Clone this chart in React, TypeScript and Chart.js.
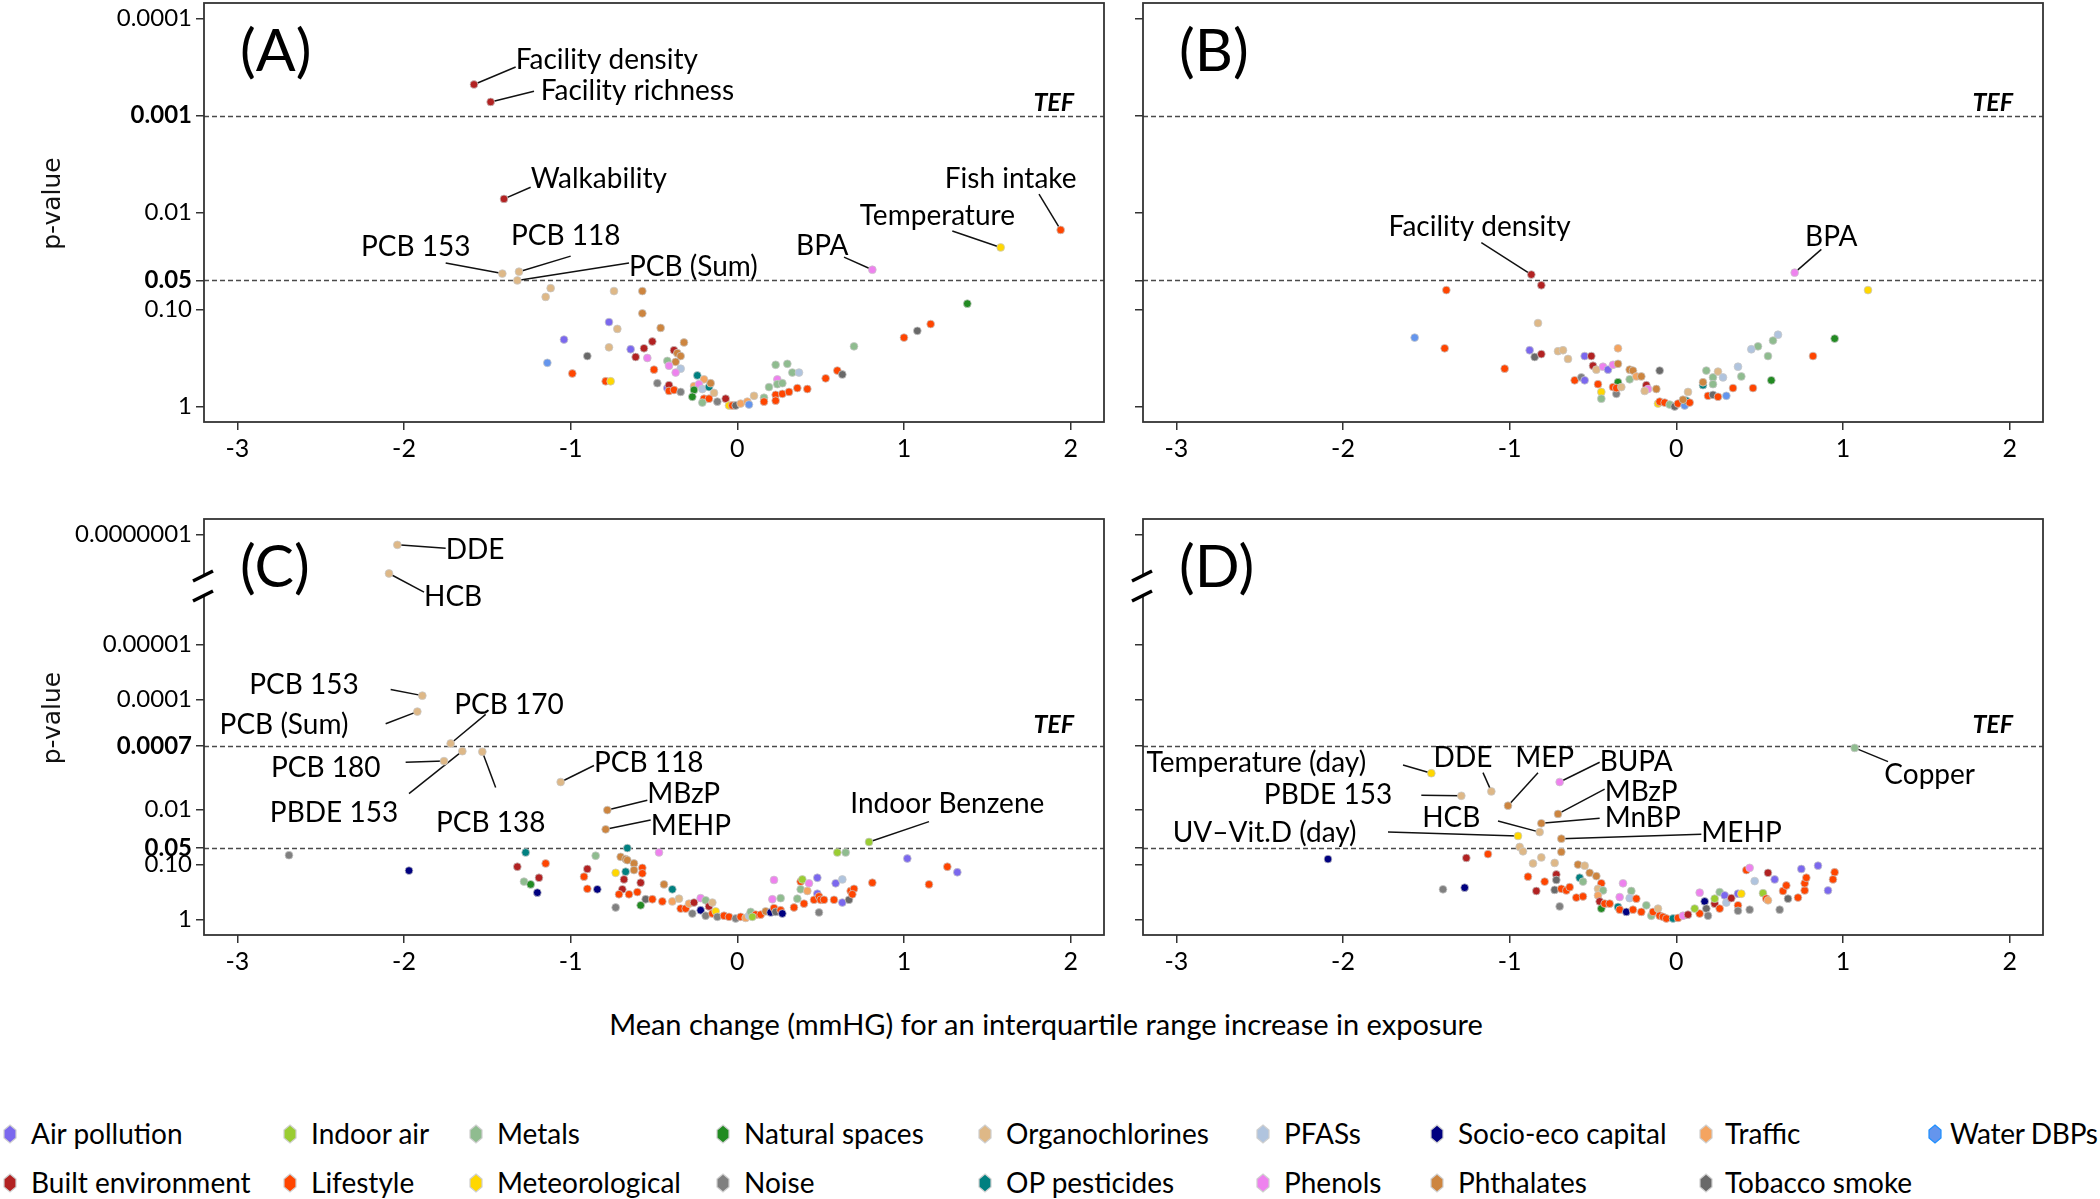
import React, { useEffect, useRef } from "react";
import { Chart, registerables } from "chart.js";

Chart.register(...registerables);

// ---------------- categories / legend ----------------
const categories = [
  "Air pollution", "Built environment", "Indoor air", "Lifestyle", "Metals", "Meteorological",
  "Natural spaces", "Noise", "Organochlorines", "OP pesticides", "PFASs", "Phenols",
  "Socio-eco capital", "Phthalates", "Traffic", "Tobacco smoke", "Water DBPs",
];
const categoryCodes = ["AP", "BE", "IA", "LS", "ME", "MT", "NS", "NO", "OC", "OP", "PF", "PH", "SE", "PT", "TR", "TS", "WD"];
const categoryColors = [
  "#7B68EE", "#B22222", "#9ACD32", "#FF4500", "#8FBC8F", "#FFD700",
  "#228B22", "#808080", "#DEB887", "#008080", "#B0C4DE", "#EE82EE",
  "#000080", "#CD853F", "#F4A460", "#696969", "#6495ED",
];
const legendRow1 = ["Air pollution", "Indoor air", "Metals", "Natural spaces", "Organochlorines", "PFASs", "Socio-eco capital", "Traffic", "Water DBPs"];
const legendRow2 = ["Built environment", "Lifestyle", "Meteorological", "Noise", "OP pesticides", "Phenols", "Phthalates", "Tobacco smoke"];

const xAxisTitle = "Mean change (mmHG) for an interquartile range increase in exposure";
const yAxisTitle = "p-value";

// ---------------- axes ----------------
const xTickValues = [-3, -2, -1, 0, 1, 2];
const xTickLabels = ["-3", "-2", "-1", "0", "1", "2"];
const xRange = [-3.2, 2.2];

const abTickP = [1, 0.1, 0.05, 0.01, 0.001, 0.0001];
const abTickLabels = ["1", "0.10", "0.05", "0.01", "0.001", "0.0001"];
const abTickBold = [false, false, true, false, true, false];
const abThresholds = [0.001, 0.05];
const abYRange = [-0.16, 4.16];

const cdTickP = [1, 0.1, 0.05, 0.01, 0.0007, 0.0001, 0.00001, 0.0000001];
const cdTickLabels = ["1", "0.10", "0.05", "0.01", "0.0007", "0.0001", "0.00001", "0.0000001"];
const cdTickBold = [false, false, true, false, true, false, false, false];
const cdThresholds = [0.0007, 0.05];
const cdYRange = [-0.28, 7.28];

// ---------------- Panel A (x = mean change, y = -log10 p) ----------------
const aX = [
  -1.58, -1.48, -1.40, 1.94, 1.58, 0.81, -1.41, -1.31, -1.32, -1.12,
  -1.15, -0.74, -0.57, -0.57, 1.38, -0.77, -0.72, -0.46, -1.04, -0.77,
  -0.51, -0.32, -0.64, -0.56, -0.61, -0.90, -1.14, -0.54, -0.38, -0.36,
  -0.34, -0.42, -0.37, -0.41, -0.34, -0.37, -0.50, -0.99, -0.79, -0.76,
  -0.48, -0.42, -0.41, -0.41, -0.38, -0.34, -0.24, -0.20, -0.26, -0.23,
  -0.21, -0.17, -0.16, -0.26, -0.27, -0.14, -0.20, -0.17, -0.21, -0.12,
  -0.07, -0.05, -0.03, -0.01, 0.02, 0.06, 0.07, 0.10, 0.16, 0.16,
  0.19, 0.23, 0.30, 0.24, 0.24, 0.27, 0.33, 0.37, 0.23, 0.23,
  0.27, 0.31, 0.36, 0.42, 0.53, 0.60, 0.63, 0.70, 1.00, 1.08,
  1.16,
];
const aNegLogP = [
  3.32, 3.14, 2.14, 1.82, 1.64, 1.41, 1.37, 1.39, 1.30, 1.22,
  1.13, 1.19, 1.19, 0.96, 1.06, 0.87, 0.80, 0.81, 0.69, 0.61,
  0.67, 0.66, 0.59, 0.60, 0.51, 0.52, 0.45, 0.50, 0.58, 0.55,
  0.52, 0.47, 0.46, 0.42, 0.39, 0.35, 0.38, 0.34, 0.26, 0.26,
  0.24, 0.19, 0.22, 0.16, 0.17, 0.15, 0.32, 0.28, 0.21, 0.23,
  0.18, 0.20, 0.24, 0.17, 0.10, 0.14, 0.08, 0.08, 0.04, 0.05,
  0.08, 0.01, 0.01, 0.01, 0.03, 0.05, 0.02, 0.11, 0.09, 0.05,
  0.20, 0.43, 0.44, 0.28, 0.23, 0.24, 0.35, 0.35, 0.12, 0.06,
  0.13, 0.15, 0.19, 0.18, 0.29, 0.37, 0.33, 0.62, 0.71, 0.78,
  0.85,
];
const aGroup = [
  "BE", "BE", "BE", "LS", "MT", "PH", "OC", "OC", "OC", "OC",
  "OC", "OC", "PT", "PT", "NS", "AP", "OC", "PT", "AP", "OC",
  "BE", "PT", "AP", "BE", "BE", "TS", "WD", "PH", "BE", "PT",
  "PT", "ME", "PT", "PH", "PF", "PH", "LS", "LS", "LS", "MT",
  "NO", "AP", "BE", "LS", "LS", "NO", "OP", "TR", "TR", "PH",
  "PF", "OP", "PT", "NS", "NS", "OC", "LS", "LS", "ME", "NO",
  "BE", "MT", "LS", "TS", "TR", "TR", "WD", "OC", "ME", "LS",
  "ME", "ME", "ME", "PH", "ME", "ME", "ME", "PF", "LS", "LS",
  "LS", "LS", "LS", "LS", "LS", "LS", "TS", "ME", "LS", "TS",
  "LS",
];
const aLabelText = ["Facility density", "Facility richness", "Walkability", "Fish intake", "Temperature", "BPA", "PCB 153", "PCB 118", "PCB (Sum)"];
const aLabelPoint = [0, 1, 2, 3, 4, 5, 6, 7, 8];
const aLabelX = [-1.33, -1.18, -1.24, 1.64, 1.20, 0.51, -1.93, -1.03, -0.65];
const aLabelY = [3.57, 3.25, 2.35, 2.35, 1.96, 1.65, 1.64, 1.76, 1.44];
const aLabelAlign = ["left", "left", "left", "center", "center", "center", "center", "center", "left"];
const aLeaderX = [-1.33, -1.22, -1.24, 1.81, 1.29, 0.64, -1.75, -1.00, -0.65];
const aLeaderY = [3.50, 3.25, 2.26, 2.19, 1.81, 1.54, 1.48, 1.55, 1.48];

// ---------------- Panel B ----------------
const bX = [
  -0.87, 0.71, -0.81, -1.38, 1.15, -0.83, -1.57, -1.39, 0.95, 0.61,
  0.58, 0.49, 0.45, 0.55, 0.82, -1.03, -0.88, -0.85, -0.81, -0.71,
  -0.68, -0.65, -0.55, -0.51, -0.35, -0.50, -0.48, -0.44, -0.41, -0.38,
  -0.35, -0.61, -0.57, -0.55, -0.47, -0.45, -0.45, -0.36, -0.35, -0.38,
  -0.36, -0.33, -0.28, -0.26, -0.28, -0.24, -0.21, -0.18, -0.17, -0.19,
  -0.12, -0.10, -0.11, -0.10, -0.07, -0.04, -0.01, 0.01, 0.05, 0.06,
  0.07, 0.08, 0.04, 0.16, 0.18, 0.22, 0.25, 0.28, 0.22, 0.19,
  0.22, 0.25, 0.30, 0.34, 0.37, 0.39, 0.46, 0.57, 0.16,
];
const bNegLogP = [
  1.36, 1.38, 1.25, 1.20, 1.20, 0.86, 0.71, 0.60, 0.70, 0.74,
  0.68, 0.62, 0.59, 0.52, 0.52, 0.39, 0.58, 0.51, 0.54, 0.57,
  0.58, 0.49, 0.52, 0.52, 0.60, 0.42, 0.38, 0.41, 0.38, 0.43,
  0.44, 0.27, 0.30, 0.27, 0.23, 0.15, 0.08, 0.13, 0.25, 0.20,
  0.19, 0.20, 0.38, 0.37, 0.28, 0.31, 0.31, 0.22, 0.18, 0.16,
  0.18, 0.37, 0.03, 0.05, 0.04, 0.02, 0.00, 0.03, 0.01, 0.06,
  0.15, 0.04, 0.07, 0.22, 0.37, 0.30, 0.36, 0.30, 0.23, 0.11,
  0.12, 0.10, 0.11, 0.19, 0.41, 0.31, 0.19, 0.27, 0.25,
];
const bGroup = [
  "BE", "PH", "BE", "LS", "MT", "OC", "WD", "LS", "NS", "PF",
  "ME", "ME", "PF", "ME", "LS", "LS", "AP", "TS", "BE", "OC",
  "OC", "OC", "AP", "BE", "TR", "BE", "OC", "PH", "AP", "PH",
  "PT", "LS", "NO", "AP", "LS", "MT", "ME", "NO", "NS", "LS",
  "LS", "OC", "PT", "PT", "ME", "TR", "PT", "BE", "PH", "OC",
  "PT", "TS", "MT", "LS", "LS", "ME", "TS", "LS", "WD", "OP",
  "OC", "LS", "PT", "OP", "ME", "ME", "OC", "PF", "ME", "LS",
  "TS", "LS", "WD", "LS", "PF", "ME", "LS", "NS", "PT",
];
const bLabelText = ["Facility density", "BPA"];
const bLabelPoint = [0, 1];
const bLabelX = [-1.18, 0.93];
const bLabelY = [1.85, 1.75];
const bLabelAlign = ["center", "center"];
const bLeaderX = [-1.17, 0.87];
const bLeaderY = [1.69, 1.62];

// ---------------- Panel C ----------------
const cX = [
  -2.04, -2.09, -1.89, -1.92, -1.72, -1.76, -1.65, -1.53, -1.06, -0.78,
  -0.79, 0.79, -2.69, -1.97, -0.66, -1.27, -0.85, -0.47, 0.60, 0.65,
  1.02, 1.26, 1.32, 1.15, 0.81, -1.32, -1.15, -1.28, -1.24, -1.19,
  -1.20, -0.90, -0.92, -0.90, -0.84, -0.73, -0.70, -0.67, -0.66, -0.62,
  -0.62, -0.57, -0.57, -0.73, -0.67, -0.68, -0.58, -0.69, -0.71, -0.65,
  -0.60, -0.55, -0.58, -0.51, -0.45, -0.44, -0.39, -0.39, -0.35, -0.34,
  -0.31, -0.29, -0.27, -0.26, -0.22, -0.22, -0.19, -0.17, -0.15, -0.19,
  -0.15, -0.13, -0.12, -0.08, -0.05, -0.01, 0.02, 0.05, 0.07, 0.08,
  0.11, 0.09, 0.14, 0.17, 0.20, 0.22, 0.23, 0.21, 0.26, 0.26,
  0.27, 0.22, 0.34, 0.40, 0.36, 0.38, 0.39, 0.43, 0.38, 0.42,
  0.48, 0.48, 0.46, 0.49, 0.50, 0.52, 0.49, 0.59, 0.63, 0.58,
  0.63, 0.67, 0.68, 0.70, 0.69,
];
const cNegLogP = [
  6.81, 6.29, 4.07, 3.78, 3.20, 2.88, 3.06, 3.05, 2.50, 1.99,
  1.64, 1.41, 1.17, 0.89, 1.30, 1.22, 1.16, 1.22, 1.22, 1.22,
  1.11, 0.96, 0.86, 0.64, 0.67, 0.96, 1.02, 0.69, 0.64, 0.76,
  0.49, 0.92, 0.78, 0.56, 0.55, 0.22, 1.14, 1.10, 1.08, 1.02,
  0.90, 0.94, 0.84, 0.85, 0.87, 0.73, 0.67, 0.55, 0.46, 0.46,
  0.50, 0.37, 0.26, 0.37, 0.33, 0.64, 0.55, 0.33, 0.38, 0.20,
  0.20, 0.29, 0.11, 0.31, 0.39, 0.17, 0.35, 0.24, 0.31, 0.07,
  0.11, 0.15, 0.05, 0.07, 0.05, 0.02, 0.05, 0.03, 0.07, 0.14,
  0.09, 0.05, 0.09, 0.15, 0.13, 0.21, 0.14, 0.37, 0.39, 0.17,
  0.11, 0.72, 0.22, 0.29, 0.38, 0.69, 0.73, 0.66, 0.55, 0.52,
  0.76, 0.47, 0.36, 0.42, 0.36, 0.36, 0.13, 0.66, 0.73, 0.36,
  0.31, 0.36, 0.52, 0.56, 0.46,
];
const cGroup = [
  "OC", "OC", "OC", "OC", "OC", "OC", "OC", "OC", "OC", "PT",
  "PT", "IA", "NO", "SE", "OP", "OP", "ME", "PH", "IA", "ME",
  "AP", "LS", "AP", "LS", "LS", "BE", "LS", "ME", "NS", "BE",
  "SE", "BE", "LS", "LS", "SE", "NO", "PT", "PT", "PT", "PT",
  "PT", "LS", "LS", "MT", "OP", "BE", "BE", "BE", "LS", "LS",
  "LS", "TS", "NS", "LS", "LS", "PT", "OP", "TR", "OC", "LS",
  "LS", "TR", "NO", "BE", "PH", "SE", "ME", "BE", "OC", "NO",
  "LS", "MT", "NO", "LS", "LS", "NO", "LS", "TR", "PF", "ME",
  "LS", "IA", "LS", "PT", "SE", "LS", "TS", "PH", "ME", "LS",
  "SE", "PH", "LS", "LS", "ME", "LS", "IA", "PH", "ME", "TR",
  "AP", "AP", "LS", "LS", "LS", "LS", "NO", "AP", "PF", "LS",
  "AP", "TS", "LS", "LS", "LS",
];
const cLabelText = ["DDE", "HCB", "PCB 153", "PCB (Sum)", "PCB 170", "PCB 180", "PBDE 153", "PCB 138", "PCB 118", "MBzP", "MEHP", "Indoor Benzene"];
const cLabelPoint = [0, 1, 2, 3, 4, 5, 6, 7, 8, 9, 10, 11];
const cLabelX = [-1.75, -1.88, -2.60, -2.72, -1.37, -2.47, -2.42, -1.48, -0.86, -0.54, -0.52, 1.26];
const cLabelY = [6.72, 5.87, 4.26, 3.53, 3.90, 2.75, 1.93, 1.76, 2.84, 2.29, 1.70, 2.11];
const cLabelAlign = ["left", "left", "center", "center", "center", "center", "center", "center", "left", "left", "left", "center"];
const cLeaderX = [-1.75, -1.88, -2.08, -2.11, -1.51, -1.99, -1.97, -1.45, -0.86, -0.54, -0.52, 1.15];
const cLeaderY = [6.75, 5.95, 4.18, 3.56, 3.73, 2.86, 2.29, 2.40, 2.80, 2.17, 1.81, 1.78];

// ---------------- Panel D ----------------
const dX = [
  1.07, -1.47, -1.11, -1.29, -1.01, -0.70, -0.71, -0.81, -0.82, -0.95,
  -0.69, -2.09, -1.26, -1.13, -1.40, -1.27, -0.94, -0.92, -0.69, -0.86,
  -0.81, -0.73, -0.59, -0.55, -0.52, -0.48, -0.89, -0.84, -0.79, -0.72,
  -0.72, -0.73, -0.70, -0.69, -0.66, -0.64, -0.60, -0.56, -0.58, -0.56,
  -0.45, -0.47, -0.44, -0.47, -0.46, -0.45, -0.43, -0.40, -0.35, -0.34,
  -0.30, -0.32, -0.27, -0.34, -0.28, -0.24, -0.26, -0.21, -0.18, -0.15,
  -0.14, -0.11, -0.10, -0.08, -0.06, -0.02, 0.01, 0.04, 0.07, 0.14,
  0.11, 0.14, 0.17, 0.18, 0.19, 0.23, 0.23, 0.26, 0.26, 0.29,
  0.30, 0.33, 0.37, 0.39, 0.37, 0.37, 0.42, 0.44, 0.47, 0.44,
  0.55, 0.59, 0.52, 0.54, 0.55, 0.62, 0.64, 0.66, 0.67, 0.73,
  0.75, 0.77, 0.77, 0.78, 0.85, 0.91, 0.95, 0.94,
];
const dNegLogP = [
  3.12, 2.66, 2.33, 2.25, 2.07, 2.50, 1.92, 1.75, 1.59, 1.52,
  1.47, 1.10, 1.12, 1.19, 0.55, 0.58, 1.32, 1.24, 1.23, 1.02,
  1.13, 1.03, 1.00, 0.98, 0.85, 0.79, 0.78, 0.52, 0.69, 0.82,
  0.72, 0.54, 0.24, 0.56, 0.53, 0.59, 0.40, 0.42, 0.76, 0.69,
  0.66, 0.56, 0.53, 0.44, 0.33, 0.20, 0.29, 0.29, 0.23, 0.18,
  0.14, 0.66, 0.52, 0.41, 0.39, 0.38, 0.18, 0.14, 0.26, 0.07,
  0.14, 0.20, 0.07, 0.05, 0.02, 0.02, 0.03, 0.07, 0.09, 0.11,
  0.20, 0.49, 0.33, 0.20, 0.07, 0.29, 0.38, 0.20, 0.50, 0.44,
  0.31, 0.39, 0.47, 0.47, 0.26, 0.16, 0.90, 0.94, 0.70, 0.18,
  0.85, 0.73, 0.48, 0.38, 0.35, 0.18, 0.52, 0.62, 0.38, 0.40,
  0.92, 0.53, 0.66, 0.76, 0.98, 0.53, 0.86, 0.73,
];
const dGroup = [
  "ME", "MT", "OC", "OC", "PT", "PH", "PT", "PT", "OC", "MT",
  "PT", "SE", "BE", "LS", "NO", "SE", "OC", "OC", "PT", "OC",
  "OC", "OC", "PT", "OC", "PT", "PT", "LS", "BE", "LS", "BE",
  "TS", "TS", "NO", "LS", "LS", "LS", "LS", "LS", "OP", "ME",
  "LS", "OC", "ME", "TR", "BE", "NS", "LS", "LS", "OP", "LS",
  "SE", "PH", "ME", "PH", "PF", "LS", "LS", "LS", "ME", "ME",
  "LS", "OC", "LS", "LS", "LS", "OP", "LS", "PH", "BE", "LS",
  "IA", "PH", "SE", "TS", "NO", "BE", "IA", "LS", "ME", "AP",
  "PF", "BE", "AP", "MT", "LS", "NO", "LS", "PH", "PF", "NO",
  "BE", "AP", "IA", "LS", "TR", "NO", "LS", "LS", "TS", "LS",
  "AP", "LS", "LS", "LS", "AP", "AP", "LS", "LS",
];
const dLabelText = ["Copper", "Temperature (day)", "DDE", "PBDE 153", "MEP", "BUPA", "MBzP", "MnBP", "HCB", "UV\u2013Vit.D (day)", "MEHP"];
const dLabelPoint = [0, 1, 2, 3, 4, 5, 6, 7, 8, 9, 10];
const dLabelX = [1.52, -2.52, -1.28, -2.09, -0.79, -0.46, -0.43, -0.43, -1.35, -2.47, 0.15];
const dLabelY = [2.62, 2.84, 2.93, 2.26, 2.93, 2.87, 2.32, 1.84, 1.84, 1.58, 1.58];
const dLabelAlign = ["center", "center", "center", "center", "center", "left", "left", "left", "center", "center", "left"];
const dLeaderX = [1.27, -1.64, -1.16, -1.53, -0.83, -0.46, -0.43, -0.46, -1.07, -1.73, 0.15];
const dLeaderY = [2.87, 2.81, 2.67, 2.26, 2.67, 2.86, 2.37, 1.84, 1.79, 1.59, 1.55];

// TEF label positions (data units)
const abTefPos = [2.02, 3.13];
const cdTefPos = [2.02, 3.53];

// ---------------- layout (pixels) ----------------
const PANEL_W = 1110;
const Y_AXIS_W = 204;
const X_AXIS_H = 58;
const FONT = "Lato";
const LABEL_SIZE = 28;
const TICK_SIZE = 24;

type Spec = {
  letter: string;
  xs: number[]; ys: number[]; gs: string[];
  tickP: number[]; tickLabels: string[]; tickBold: boolean[]; showYLabels: boolean;
  yRange: number[]; thresholds: number[]; tef: number[];
  lText: string[]; lPoint: number[]; lX: number[]; lY: number[]; lAlign: string[]; lEndX: number[]; lEndY: number[];
  axisBreak: boolean; yTitle: boolean;
  frame: { left: number; top: number; height: number; padTop: number };
};

const specs: Spec[] = [
  {
    letter: "A", xs: aX, ys: aNegLogP, gs: aGroup,
    tickP: abTickP, tickLabels: abTickLabels, tickBold: abTickBold, showYLabels: true,
    yRange: abYRange, thresholds: abThresholds, tef: abTefPos,
    lText: aLabelText, lPoint: aLabelPoint, lX: aLabelX, lY: aLabelY, lAlign: aLabelAlign, lEndX: aLeaderX, lEndY: aLeaderY,
    axisBreak: false, yTitle: true,
    frame: { left: 0, top: 0, height: 480, padTop: 3 },
  },
  {
    letter: "B", xs: bX, ys: bNegLogP, gs: bGroup,
    tickP: abTickP, tickLabels: abTickLabels, tickBold: abTickBold, showYLabels: false,
    yRange: abYRange, thresholds: abThresholds, tef: abTefPos,
    lText: bLabelText, lPoint: bLabelPoint, lX: bLabelX, lY: bLabelY, lAlign: bLabelAlign, lEndX: bLeaderX, lEndY: bLeaderY,
    axisBreak: false, yTitle: false,
    frame: { left: 939, top: 0, height: 480, padTop: 3 },
  },
  {
    letter: "C", xs: cX, ys: cNegLogP, gs: cGroup,
    tickP: cdTickP, tickLabels: cdTickLabels, tickBold: cdTickBold, showYLabels: true,
    yRange: cdYRange, thresholds: cdThresholds, tef: cdTefPos,
    lText: cLabelText, lPoint: cLabelPoint, lX: cLabelX, lY: cLabelY, lAlign: cLabelAlign, lEndX: cLeaderX, lEndY: cLeaderY,
    axisBreak: true, yTitle: true,
    frame: { left: 0, top: 500, height: 493, padTop: 19 },
  },
  {
    letter: "D", xs: dX, ys: dNegLogP, gs: dGroup,
    tickP: cdTickP, tickLabels: cdTickLabels, tickBold: cdTickBold, showYLabels: false,
    yRange: cdYRange, thresholds: cdThresholds, tef: cdTefPos,
    lText: dLabelText, lPoint: dLabelPoint, lX: dLabelX, lY: dLabelY, lAlign: dLabelAlign, lEndX: dLeaderX, lEndY: dLeaderY,
    axisBreak: true, yTitle: false,
    frame: { left: 939, top: 500, height: 493, padTop: 19 },
  },
];

const colorOf = (code: string) => categoryColors[categoryCodes.indexOf(code)];

function makeDecor(s: Spec) {
  return {
    id: "decor" + s.letter,
    beforeDatasetsDraw(chart: any) {
      const { ctx, chartArea: a, scales } = chart;
      const xs = scales.x, ys = scales.y;
      ctx.save();
      // threshold lines
      ctx.strokeStyle = "#4a4a4a";
      ctx.lineWidth = 1.7;
      ctx.setLineDash([5, 3]);
      s.thresholds.forEach((t) => {
        const py = Math.round(ys.getPixelForValue(-Math.log10(t))) + 0.5;
        ctx.beginPath();
        ctx.moveTo(a.left, py);
        ctx.lineTo(a.right, py);
        ctx.stroke();
      });
      ctx.setLineDash([]);
      // leader lines
      ctx.strokeStyle = "#111";
      ctx.lineWidth = 1.5;
      s.lText.forEach((_t, i) => {
        const pi = s.lPoint[i];
        ctx.beginPath();
        ctx.moveTo(xs.getPixelForValue(s.xs[pi]), ys.getPixelForValue(s.ys[pi]));
        ctx.lineTo(xs.getPixelForValue(s.lEndX[i]), ys.getPixelForValue(s.lEndY[i]));
        ctx.stroke();
      });
      // box
      ctx.strokeStyle = "#333";
      ctx.lineWidth = 1.8;
      ctx.strokeRect(a.left, a.top, a.right - a.left, a.bottom - a.top);
      ctx.restore();
    },
    afterDatasetsDraw(chart: any) {
      const { ctx, chartArea: a, scales } = chart;
      const xs = scales.x, ys = scales.y;
      ctx.save();
      ctx.fillStyle = "#000";
      ctx.textBaseline = "middle";
      ctx.font = `${LABEL_SIZE}px ${FONT}`;
      s.lText.forEach((t, i) => {
        ctx.textAlign = s.lAlign[i];
        ctx.fillText(t, xs.getPixelForValue(s.lX[i]), ys.getPixelForValue(s.lY[i]));
      });
      // TEF
      ctx.font = `italic bold 25px ${FONT}`;
      ctx.textAlign = "right";
      ctx.fillText("TEF", xs.getPixelForValue(s.tef[0]), ys.getPixelForValue(s.tef[1]));
      // panel letter
      ctx.font = `59px ${FONT}`;
      ctx.textAlign = "left";
      ctx.fillText(`(${s.letter})`, a.left + 36, a.top + 49);
      // axis break
      if (s.axisBreak) {
        const L = a.left, T = a.top;
        ctx.fillStyle = "#fff";
        ctx.beginPath();
        ctx.moveTo(L - 11, T + 62);
        ctx.lineTo(L + 9, T + 52);
        ctx.lineTo(L + 9, T + 72);
        ctx.lineTo(L - 11, T + 82);
        ctx.closePath();
        ctx.fill();
        ctx.strokeStyle = "#000";
        ctx.lineWidth = 3.5;
        ctx.beginPath();
        ctx.moveTo(L - 11, T + 62);
        ctx.lineTo(L + 9, T + 52);
        ctx.moveTo(L - 11, T + 82);
        ctx.lineTo(L + 9, T + 72);
        ctx.stroke();
      }
      // y axis title
      if (s.yTitle) {
        ctx.fillStyle = "#111";
        ctx.translate(a.left - 151, (a.top + a.bottom) / 2 - 9);
        ctx.rotate(-Math.PI / 2);
        ctx.font = `25px "DejaVu Sans"`;
        ctx.textAlign = "center";
        ctx.fillText(yAxisTitle, 0, 0);
      }
      ctx.restore();
    },
  };
}

function buildConfig(s: Spec): any {
  const tickGrid = { drawOnChartArea: false, drawTicks: true, tickLength: 8, color: "#333", lineWidth: 1.5 };
  return {
    type: "scatter",
    data: {
      datasets: [
        {
          data: s.xs.map((x, i) => ({ x, y: s.ys[i] })),
          pointBackgroundColor: s.gs.map(colorOf),
          pointBorderColor: "rgba(200,200,200,0.95)",
          pointBorderWidth: 0.8,
          pointRadius: 3.9,
          pointHoverRadius: 3.9,
        },
      ],
    },
    options: {
      responsive: false,
      animation: false,
      devicePixelRatio: 1,
      events: [],
      layout: { padding: { top: s.frame.padTop, right: 6, left: 0, bottom: 0 }, autoPadding: false },
      plugins: { legend: { display: false }, tooltip: { enabled: false } },
      scales: {
        x: {
          type: "linear",
          min: xRange[0],
          max: xRange[1],
          afterBuildTicks: (sc: any) => {
            sc.ticks = xTickValues.map((v) => ({ value: v }));
          },
          ticks: {
            autoSkip: false,
            maxRotation: 0,
            padding: 4,
            color: "#000",
            font: { family: FONT, size: TICK_SIZE + 1 },
            callback: (_v: any, i: number) => xTickLabels[i],
          },
          grid: tickGrid,
          border: { display: false },
          afterFit: (sc: any) => {
            sc.height = X_AXIS_H;
            sc.paddingLeft = 0;
            sc.paddingRight = 0;
          },
        },
        y: {
          type: "linear",
          min: s.yRange[0],
          max: s.yRange[1],
          afterBuildTicks: (sc: any) => {
            sc.ticks = s.tickP.map((p) => ({ value: -Math.log10(p) }));
          },
          ticks: {
            autoSkip: false,
            padding: 4,
            color: "#000",
            font: (c: any) => ({ family: FONT, size: TICK_SIZE, weight: s.tickBold[c.index] ? "bold" : "normal" }),
            callback: (_v: any, i: number) => (s.showYLabels ? s.tickLabels[i] : ""),
          },
          grid: tickGrid,
          border: { display: false },
          afterFit: (sc: any) => {
            sc.width = Y_AXIS_W;
            sc.paddingTop = 0;
            sc.paddingBottom = 0;
          },
        },
      },
    },
    plugins: [makeDecor(s)],
  };
}

function VolcanoPanel({ spec }: { spec: Spec }) {
  const ref = useRef<HTMLCanvasElement | null>(null);
  useEffect(() => {
    if (!ref.current) return;
    const chart = new Chart(ref.current, buildConfig(spec));
    return () => chart.destroy();
  }, [spec]);
  return (
    <canvas
      ref={ref}
      width={PANEL_W}
      height={spec.frame.height}
      style={{ position: "absolute", left: spec.frame.left, top: spec.frame.top, width: PANEL_W, height: spec.frame.height }}
    />
  );
}

const legendColX = [10, 290, 476, 723, 985, 1263, 1437, 1706, 1935];
const legendTextGap = [21, 21, 21, 21, 21, 21, 21, 19, 15];
const legendRowY = [1134, 1183];

function LegendMarker({ name, cx, cy }: { name: string; cx: number; cy: number }) {
  const idx = categories.indexOf(name);
  const fill = categoryColors[idx];
  const stroke = name === "Water DBPs" ? "#1E90FF" : "#cfcfcf";
  return (
    <svg width={14} height={20} style={{ position: "absolute", left: cx - 7, top: cy - 10 }}>
      <polygon points="7,1 13,6 13,14 7,19 1,14 1,6" fill={fill} stroke={stroke} strokeWidth={1.2} />
    </svg>
  );
}

export default function App() {
  const textStyle: React.CSSProperties = {
    position: "absolute",
    fontFamily: FONT,
    fontSize: LABEL_SIZE,
    lineHeight: "30px",
    color: "#000",
    whiteSpace: "nowrap",
  };
  return (
    <div style={{ position: "absolute", left: 0, top: 0, width: 2100, height: 1199, background: "#fff", overflow: "hidden" }}>
      {specs.map((s) => (
        <VolcanoPanel key={s.letter} spec={s} />
      ))}
      <div style={{ ...textStyle, fontSize: 29, left: 446, width: 1200, textAlign: "center", top: 1009 }}>{xAxisTitle}</div>
      {[legendRow1, legendRow2].map((row, r) =>
        row.map((name, c) => (
          <React.Fragment key={name}>
            <LegendMarker name={name} cx={legendColX[c]} cy={legendRowY[r]} />
            <div
              style={{
                ...textStyle,
                left: legendColX[c] + legendTextGap[c],
                top: legendRowY[r] - 16,
                letterSpacing: name === "Water DBPs" ? "-0.3px" : undefined,
              }}
            >
              {name}
            </div>
          </React.Fragment>
        ))
      )}
    </div>
  );
}
